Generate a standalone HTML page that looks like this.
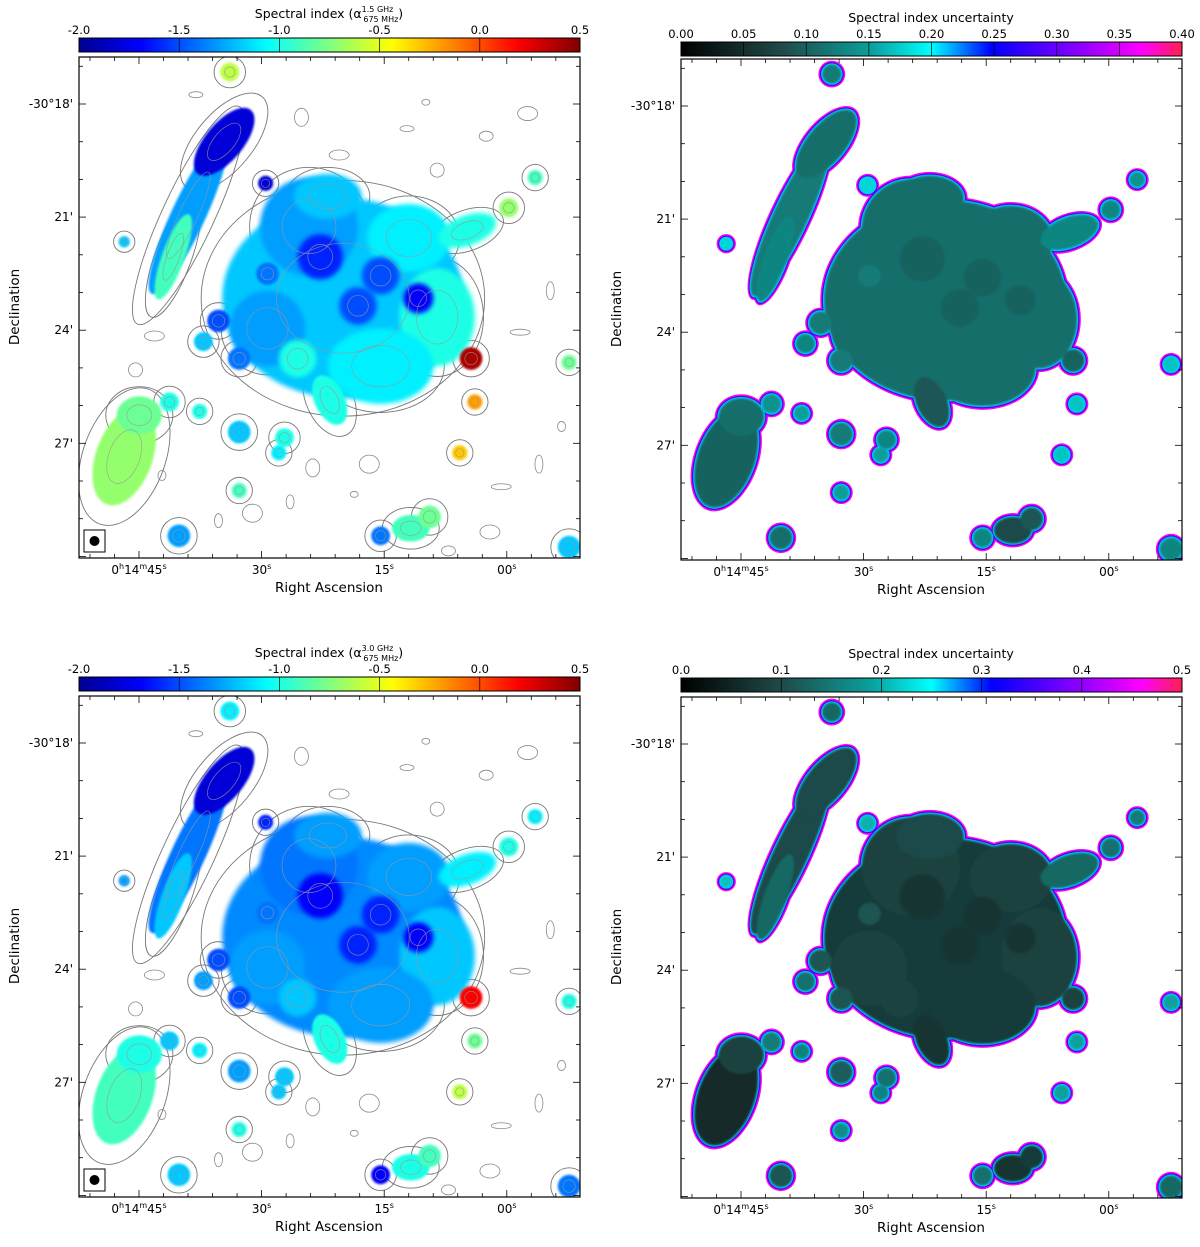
<!DOCTYPE html>
<html><head><meta charset="utf-8"><style>
body{margin:0;background:#fff}
svg text{font-family:"DejaVu Sans","Liberation Sans",sans-serif;fill:#000}
</style></head><body>
<svg id="s" width="1200" height="1242" viewBox="0 0 1200 1242" xmlns="http://www.w3.org/2000/svg">
<defs>
<linearGradient id="jet" x1="0" x2="1" y1="0" y2="0">
<stop offset="0" stop-color="#00008f"/><stop offset="0.125" stop-color="#0000ff"/><stop offset="0.375" stop-color="#00ffff"/><stop offset="0.5" stop-color="#80ff80"/><stop offset="0.625" stop-color="#ffff00"/><stop offset="0.875" stop-color="#ff0000"/><stop offset="1" stop-color="#800000"/>
</linearGradient>
<linearGradient id="unc" x1="0" x2="1" y1="0" y2="0">
<stop offset="0" stop-color="#000000"/><stop offset="0.2" stop-color="#1f4a48"/><stop offset="0.38" stop-color="#0aa09c"/><stop offset="0.5" stop-color="#00ffff"/><stop offset="0.62" stop-color="#0000ff"/><stop offset="0.8" stop-color="#9000ff"/><stop offset="0.92" stop-color="#ff00ff"/><stop offset="1" stop-color="#ff2050"/>
</linearGradient>
<filter id="bl" x="-50%" y="-50%" width="200%" height="200%"><feGaussianBlur stdDeviation="2.5"/></filter>
<filter id="bl2" x="-50%" y="-50%" width="200%" height="200%"><feGaussianBlur stdDeviation="1"/></filter>
</defs>
</svg>
<script>
// source catalogue (arcmin offsets from plot top-left)
const srcX=[7.0,6.1,8.75,9.5,8.0,5.0,10.3,6.6,6.4,8.0,9.0,5.8,7.4,2.9,3.85,2.5,1.2,1.6,6.65,10.4,8.8,9.3,4.0,5.0,4.95,11.4,12.1,3.7,3.3,4.25,5.45,4.25,8.0,2.65,4.25,5.3,3.2,10.1,13.0,13.0,1.2,10.5,2.4];
const srcY=[6.4,4.5,4.8,6.9,8.2,7.2,4.6,3.7,5.3,5.8,6.4,8.0,6.6,4.2,2.25,5.3,10.6,9.5,9.1,8.0,12.5,12.2,0.4,5.75,3.35,4.0,3.2,7.0,7.55,8.0,10.1,9.95,12.7,12.7,11.5,10.5,9.4,10.5,13.0,8.1,4.9,9.15,9.15];
const srcRx=[3.2,1.3,1.1,1.0,1.4,1.0,0.8,0.9,0.6,0.5,0.4,0.5,0.5,0.45,0.5,0.3,0.75,0.6,0.4,0.3,0.5,0.3,0.25,0.3,0.2,0.25,0.2,0.3,0.25,0.3,0.25,0.3,0.25,0.3,0.2,0.2,0.2,0.2,0.3,0.2,0.15,0.2,0.25];
const srcRy=[2.65,1.3,0.9,1.3,1.0,1.0,0.4,0.6,0.6,0.5,0.4,0.5,0.5,2.3,1.1,1.2,1.35,0.5,0.7,0.3,0.35,0.3,0.25,0.3,0.2,0.25,0.2,0.3,0.25,0.3,0.25,0.3,0.25,0.3,0.2,0.2,0.2,0.2,0.3,0.2,0.15,0.2,0.25];
const srcRot=[0,0,0,0,0,0,-20,0,0,0,0,0,0,25,40,20,20,0,-25,0,0,0,0,0,0,0,0,0,0,0,0,0,0,0,0,0,0,0,0,0,0,0,0];
const alpha15=[-1.2,-1.3,-1.1,-1.0,-1.1,-1.3,-1.0,-1.2,-1.6,-1.5,-1.7,-1.0,-1.5,-1.3,-1.8,-0.9,-0.7,-0.8,-1.0,0.4,-0.9,-0.8,-0.6,-1.4,-1.8,-0.7,-0.9,-1.5,-1.2,-1.4,-1.0,-1.2,-1.4,-1.3,-0.9,-1.1,-1.0,-0.3,-1.2,-0.8,-1.2,-0.2,-1.0];
const alpha30=[-1.35,-1.4,-1.3,-1.2,-1.3,-1.3,-1.1,-1.3,-1.7,-1.6,-1.7,-1.2,-1.6,-1.4,-1.8,-1.2,-0.9,-1.0,-1.0,0.2,-1.0,-0.9,-1.1,-1.4,-1.6,-1.0,-1.1,-1.5,-1.3,-1.5,-1.2,-1.3,-1.7,-1.2,-1.0,-1.2,-1.1,-0.6,-1.4,-1.0,-1.3,-0.8,-1.2];
const err15=[0.11,0.11,0.11,0.11,0.11,0.11,0.13,0.11,0.1,0.1,0.1,0.11,0.1,0.12,0.11,0.13,0.1,0.11,0.09,0.1,0.08,0.09,0.12,0.12,0.18,0.13,0.14,0.12,0.13,0.12,0.13,0.12,0.13,0.11,0.15,0.15,0.15,0.17,0.13,0.17,0.18,0.17,0.14];
const err30=[0.08,0.09,0.09,0.09,0.08,0.09,0.13,0.1,0.07,0.07,0.07,0.09,0.07,0.1,0.1,0.13,0.06,0.09,0.07,0.09,0.07,0.08,0.13,0.11,0.2,0.14,0.15,0.11,0.14,0.11,0.14,0.12,0.14,0.11,0.17,0.16,0.16,0.19,0.13,0.19,0.21,0.19,0.15];
// faint noise contours
const noiseX=[9.2,10.8,11.9,12.5,3.1,2.0,5.6,6.2,11.2,12.8,1.5,4.6,7.3,9.8,10.9,12.2,8.7,6.9,3.7,5.9,11.7,2.2,9.5,7.7];
const noiseY=[1.2,2.1,1.5,6.2,1.0,7.4,11.8,10.9,11.4,9.8,8.3,12.1,11.6,13.1,12.6,10.8,1.9,2.6,12.3,1.6,7.3,11.1,3.0,10.8];
// colorbar ticks
const cbAlphaTicks=[-2.0,-1.5,-1.0,-0.5,0.0,0.5];
const cbErrTicks1=[0,0.05,0.1,0.15,0.2,0.25,0.3,0.35,0.4];
const cbErrTicks2=[0,0.1,0.2,0.3,0.4,0.5];
const raLabels=['0h14m45s','30s','15s','00s'];
const decLabels=["-30°18'","21'","24'","27'"];

const NS='http://www.w3.org/2000/svg';
const svg=document.getElementById('s');
function mk(tag,attrs,parent){const e=document.createElementNS(NS,tag);for(const k in attrs)e.setAttribute(k,attrs[k]);(parent||svg).appendChild(e);return e;}
const PX=37.7;
function lerp(stops,t){t=Math.max(0,Math.min(1,t));for(let i=1;i<stops.length;i++){if(t<=stops[i][0]){const a=stops[i-1],b=stops[i];const f=(t-a[0])/(b[0]-a[0]);return 'rgb('+[1,2,3].map(j=>Math.round(a[j]+(b[j]-a[j])*f)).join(',')+')';}}const l=stops[stops.length-1];return 'rgb('+l[1]+','+l[2]+','+l[3]+')';}
const jetS=[[0,0,0,143],[0.125,0,0,255],[0.375,0,255,255],[0.5,128,255,128],[0.625,255,255,0],[0.875,255,0,0],[1,128,0,0]];
const uncS=[[0,0,0,0],[0.2,31,74,72],[0.38,10,160,156],[0.5,0,255,255],[0.62,0,0,255],[0.8,144,0,255],[0.92,255,0,255],[1,255,32,80]];

function panel(px,py,cbY,kind,vals,vmax,title,ticks,fmt){
  const g=mk('g',{});
  
  
  const W=501;
  const sx=v=>px+v*PX, sy=v=>py+v*PX;
  const clip='c'+px+py;
  const cp=mk('clipPath',{id:clip},g);mk('rect',{x:px,y:py,width:W,height:W},cp);
  const img=mk('g',{'clip-path':'url(#'+clip+')'},g);
  
  
  if(kind==='alpha'){
    for(let i=0;i<noiseX.length;i++){
      const c=mk('ellipse',{cx:sx(noiseX[i]),cy:sy(noiseY[i]),rx:4+(i%3)*3,ry:3+(i%4)*2,fill:'none',stroke:'#888','stroke-width':0.8},img);
      
      
    }
    for(let i=0;i<srcX.length;i++){
      const sc=i<13?1.15:1.35;
      const c=mk('ellipse',{cx:sx(srcX[i]),cy:sy(srcY[i]),rx:srcRx[i]*PX*sc+3,ry:srcRy[i]*PX*sc+3,transform:`rotate(${srcRot[i]} ${sx(srcX[i])} ${sy(srcY[i])})`,fill:'none',stroke:'#777','stroke-width':0.9},img);
      
      
    }
    for(let i=0;i<srcX.length;i++){
      const c=mk('ellipse',{cx:sx(srcX[i]),cy:sy(srcY[i]),rx:srcRx[i]*PX,ry:srcRy[i]*PX,transform:`rotate(${srcRot[i]} ${sx(srcX[i])} ${sy(srcY[i])})`,fill:lerp(jetS,(vals[i]+2)/2.5),filter:i<13?'url(#bl)':'url(#bl2)'},img);
      
      
    }
    for(let i=0;i<srcX.length;i++){
      const c=mk('ellipse',{cx:sx(srcX[i]),cy:sy(srcY[i]),rx:srcRx[i]*PX*0.55,ry:srcRy[i]*PX*0.55,transform:`rotate(${srcRot[i]} ${sx(srcX[i])} ${sy(srcY[i])})`,fill:'none',stroke:'#999','stroke-width':0.7,opacity:0.8},img);
      
      
    }
    const bx=mk('rect',{x:px+5,y:py+473,width:21,height:22,fill:'#fff',stroke:'#000','stroke-width':1},g);
    
    
    const bc=mk('circle',{cx:px+15.5,cy:py+484,r:5,fill:'#000'},g);
    
    
  } else {
    const rims=[[4,0.93],[2.6,0.72],[1.3,0.52]];
    for(const [d,t] of rims){
      for(let i=0;i<srcX.length;i++){
        const c=mk('ellipse',{cx:sx(srcX[i]),cy:sy(srcY[i]),rx:srcRx[i]*PX+d,ry:srcRy[i]*PX+d,transform:`rotate(${srcRot[i]} ${sx(srcX[i])} ${sy(srcY[i])})`,fill:lerp(uncS,t)},img);
        
        
      }
    }
    for(let i=0;i<srcX.length;i++){
      const c=mk('ellipse',{cx:sx(srcX[i]),cy:sy(srcY[i]),rx:srcRx[i]*PX,ry:srcRy[i]*PX,transform:`rotate(${srcRot[i]} ${sx(srcX[i])} ${sy(srcY[i])})`,fill:lerp(uncS,vals[i]/vmax),filter:'url(#bl2)'},img);
      
      
    }
  }
  const fr=mk('rect',{x:px,y:py,width:W,height:W,fill:'none',stroke:'#000','stroke-width':1.2},g);
  
  
  const raX=i=>px+60+i*122.6;
  for(let k=-2;k<=17;k++){const x=px+60+k*24.52;if(x<=px||x>=px+W)continue;const L=k%5===0?7:4;
    mk('line',{x1:x,x2:x,y1:py+W,y2:py+W-L,stroke:'#000','stroke-width':0.8},g);mk('line',{x1:x,x2:x,y1:py,y2:py+L,stroke:'#000','stroke-width':0.8},g);}
  raLabels.forEach((l,i)=>{const t=mk('text',{x:raX(i),y:py+W+16,'text-anchor':'middle','font-size':12},g);
    if(i===0){t.innerHTML='0<tspan font-size="8" dy="-5">h</tspan><tspan dy="5">14</tspan><tspan font-size="8" dy="-5">m</tspan><tspan dy="5">45</tspan><tspan font-size="8" dy="-5">s</tspan>';}
    else{t.innerHTML=l.slice(0,2)+'<tspan font-size="8" dy="-5">s</tspan>';}
    });
  const decY=i=>py+47+i*113.1;
  for(let k=-1;k<=13;k++){const y=py+47+k*37.7;if(y<=py||y>=py+W)continue;const L=k%3===0?7:4;
    mk('line',{x1:px,x2:px+L,y1:y,y2:y,stroke:'#000','stroke-width':0.8},g);mk('line',{x1:px+W,x2:px+W-L,y1:y,y2:y,stroke:'#000','stroke-width':0.8},g);}
  decLabels.forEach((l,i)=>{const t=mk('text',{x:px-6,y:decY(i)+4,'text-anchor':'end','font-size':12},g);t.textContent=l;
    });
  const xt=mk('text',{x:px+250,y:py+W+34,'text-anchor':'middle','font-size':13.5},g);xt.textContent='Right Ascension';
  
  const yt=mk('text',{x:0,y:0,'text-anchor':'middle','font-size':13.5,transform:`translate(${px-60},${py+250}) rotate(-90)`},g);yt.textContent='Declination';
  
  const cb=mk('rect',{x:px,y:cbY,width:W,height:14,fill:kind==='alpha'?'url(#jet)':'url(#unc)',stroke:'#000','stroke-width':1},g);
  
  const lo=ticks[0],hi=ticks[ticks.length-1];
  ticks.forEach(v=>{const x=px+(v-lo)/(hi-lo)*W;
    mk('line',{x1:x,x2:x,y1:cbY,y2:cbY+14,stroke:'#000','stroke-width':0.7},g);
    const t=mk('text',{x:x,y:cbY-4,'text-anchor':'middle','font-size':11.5},g);t.textContent=fmt(v);
    });
  const ct=mk('text',{x:px+250,y:cbY-20,'text-anchor':'middle','font-size':12.5},g);ct.innerHTML=title;
  
}
const fa=v=>v.toFixed(1), f2=v=>v.toFixed(2);
panel(79,57,38,'alpha',alpha15,1,'Spectral index (α<tspan font-size="8" dy="-6">1.5 GHz</tspan><tspan font-size="8" dx="-30" dy="10">675 MHz</tspan><tspan dy="-4">)</tspan>',cbAlphaTicks,fa);
panel(681,59,42,'err',err15,0.4,'Spectral index uncertainty',cbErrTicks1,f2);
panel(79,696,677,'alpha',alpha30,1,'Spectral index (α<tspan font-size="8" dy="-6">3.0 GHz</tspan><tspan font-size="8" dx="-30" dy="10">675 MHz</tspan><tspan dy="-4">)</tspan>',cbAlphaTicks,fa);
panel(681,697,678,'err',err30,0.5,'Spectral index uncertainty',cbErrTicks2,fa);
</script>
</body></html>
